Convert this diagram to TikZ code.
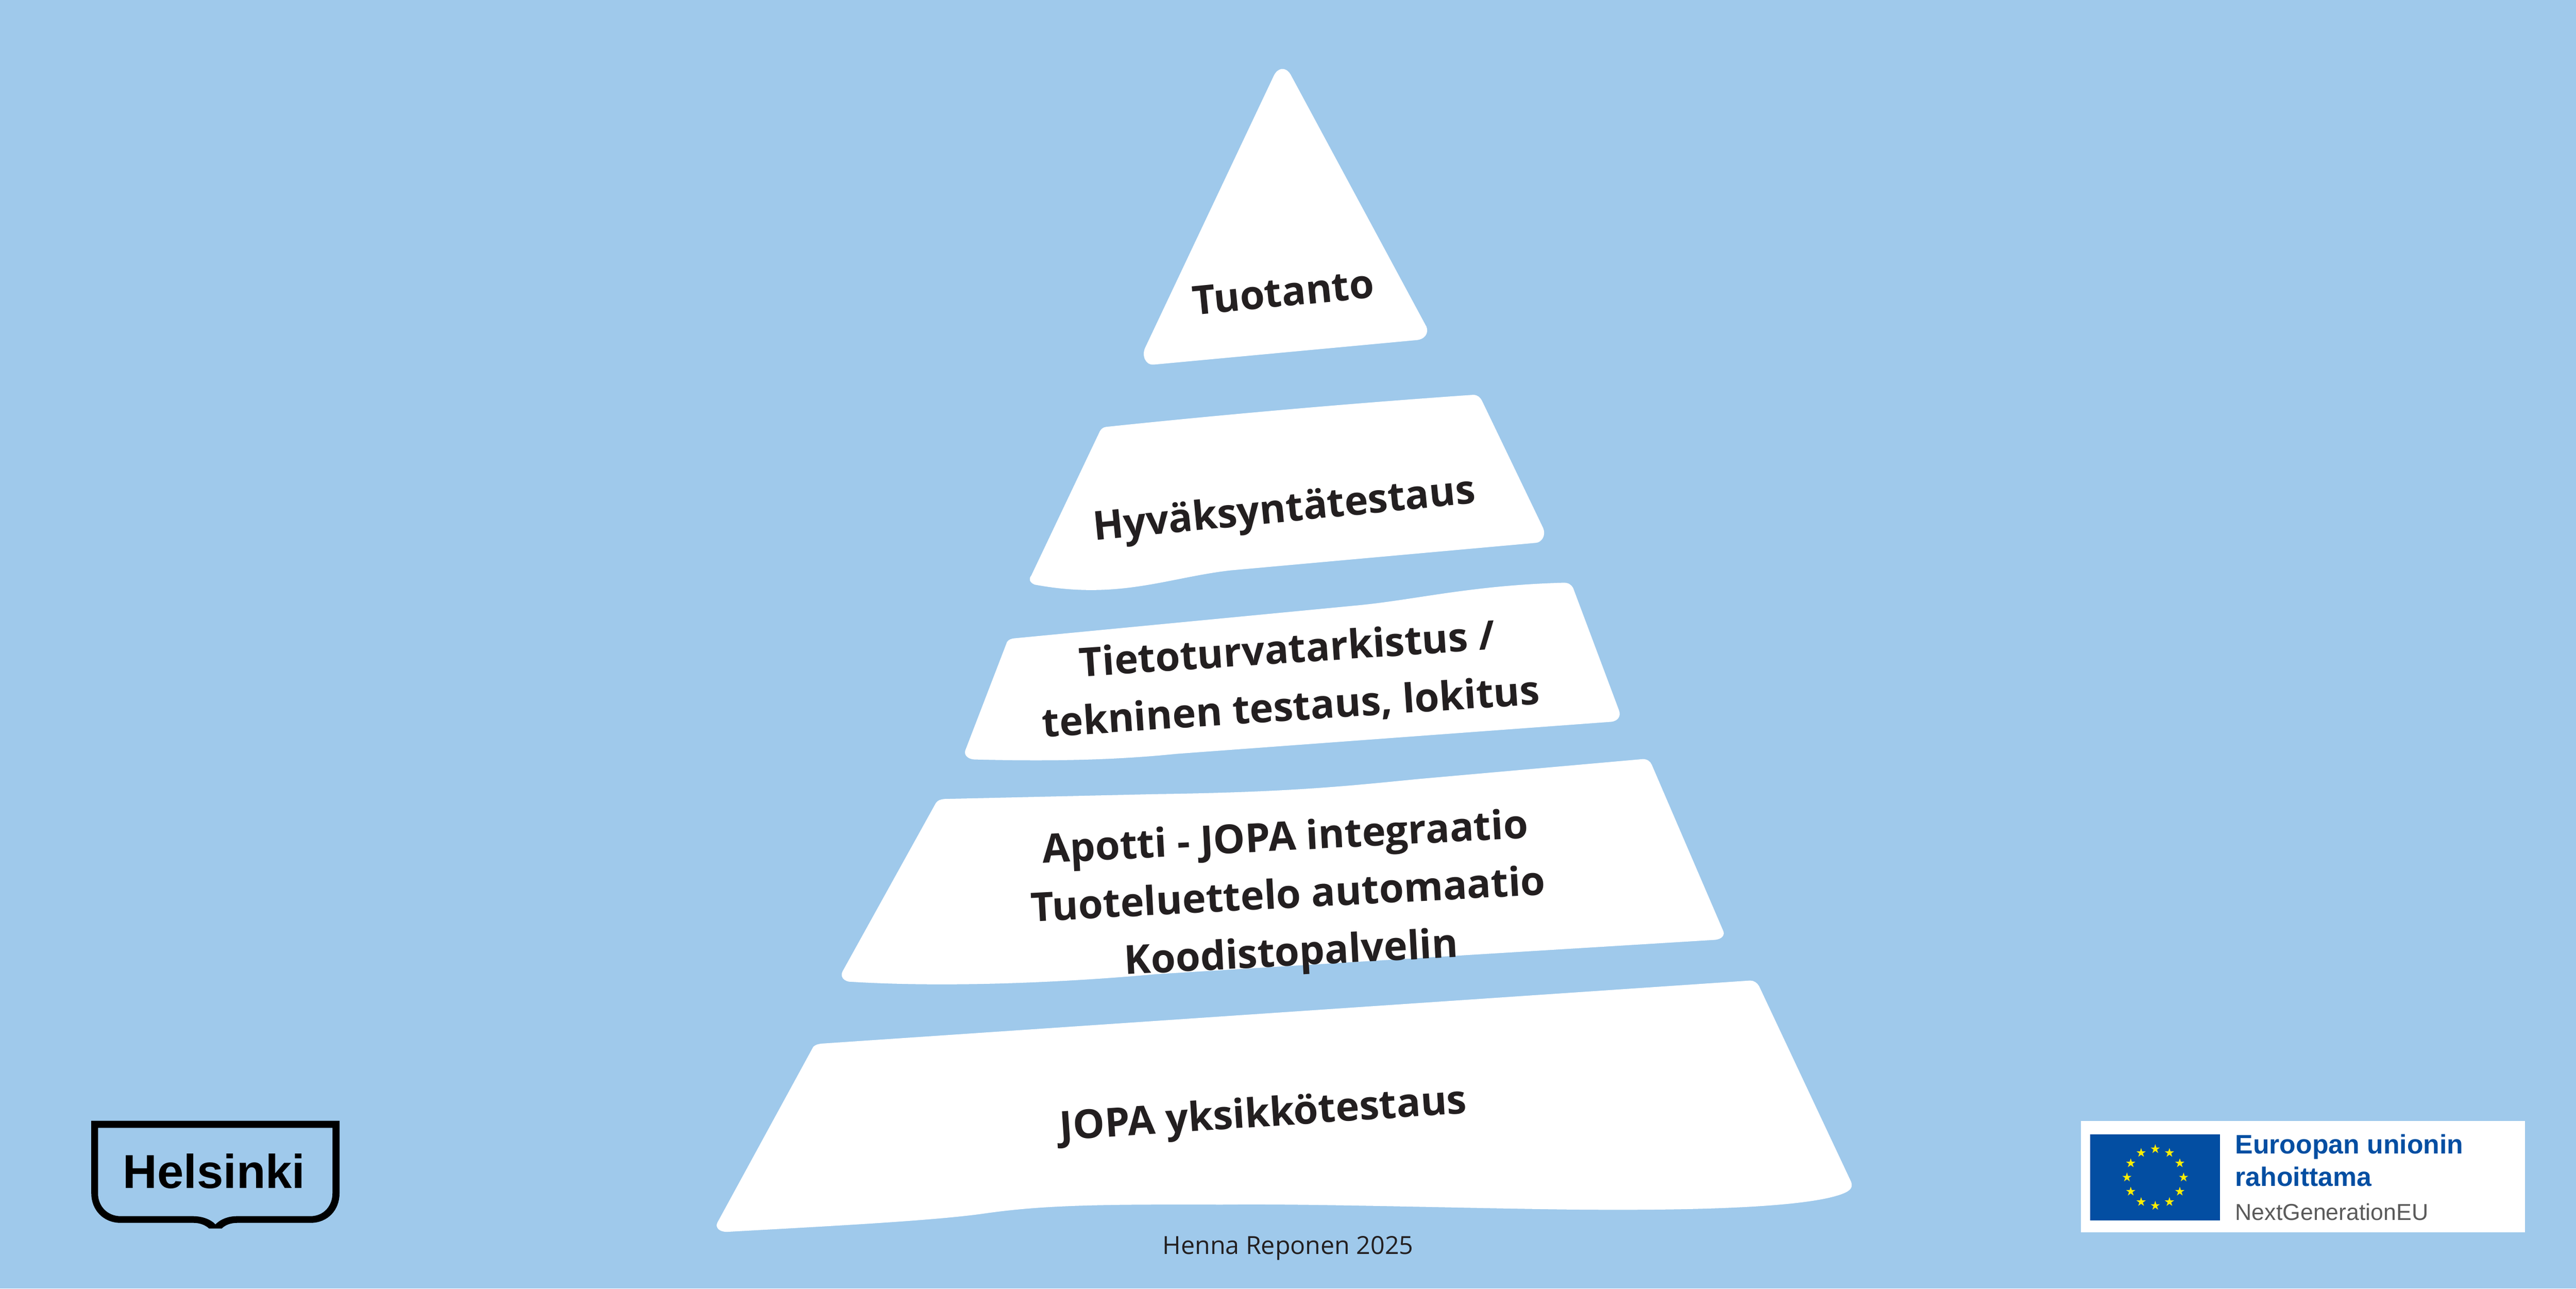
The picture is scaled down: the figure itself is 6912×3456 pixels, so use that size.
\documentclass[tikz,border=0pt]{standalone}
\usepackage{fontspec}
\setmainfont{Open Sans}
\newfontfamily\arialfont{Liberation Sans}
\usetikzlibrary{shapes.geometric,calc}
\definecolor{bgblue}{HTML}{9FC9EB}
\definecolor{inkdark}{HTML}{231F20}
\definecolor{eublue}{HTML}{034EA2}
\definecolor{eugrey}{HTML}{5A5A5A}
\definecolor{eustar}{HTML}{FFED00}
\tikzset{
  x=0.01cm,y=-0.01cm,
  tier/.style={fill=white,draw=none},
  tierlabel/.style={font=\fontsize{30.5}{#1}\selectfont\bfseries,text=inkdark,align=center,inner sep=0pt},
  tierlabel/.default=44,
  eutext/.style={font=\arialfont\bfseries\fontsize{20.35}{24}\selectfont,text=eublue,anchor=base west,inner sep=0pt},
}
\begin{document}
\begin{tikzpicture}
\path[use as bounding box,fill=bgblue] (0,0) rectangle (6912,3456);
% Tuotanto
\path[tier] (3417,205) -- (3073,932) .. controls (3062,955) and (3075,980) .. (3095,978)
  -- (3803,912) .. controls (3830,908) and (3835,885) .. (3824,870)
  -- (3463,200) .. controls (3450,178) and (3428,180) .. (3417,205) -- cycle;
% Hyvaksynta
\path[tier] (2968,1145) .. controls (3300,1110) and (3650,1080) .. (3953,1059) .. controls (3965,1059) and (3972,1066) .. (3977,1076)
  -- (4140,1415) .. controls (4150,1438) and (4135,1455) .. (4121,1456)
  -- (3300,1530) .. controls (3130,1550) and (3000,1610) .. (2776,1568)
  .. controls (2762,1562) and (2760,1552) .. (2767,1544)
  -- (2951,1157) .. controls (2955,1150) and (2960,1146) .. (2968,1145) -- cycle;
% Tietoturva
\path[tier] (2723,1712) -- (3650,1623) .. controls (3800,1608) and (3950,1570) .. (4193,1563)
  .. controls (4208,1562) and (4216,1568) .. (4221,1577)
  -- (4344,1905) .. controls (4350,1920) and (4342,1934) .. (4323,1936)
  -- (3156,2022) .. controls (2980,2040) and (2800,2042) .. (2614,2037)
  .. controls (2598,2036) and (2586,2026) .. (2590,2013)
  -- (2702,1722) .. controls (2706,1716) and (2712,1713) .. (2723,1712) -- cycle;
% Apotti
\path[tier] (2535,2143) -- (3100,2130) .. controls (3450,2125) and (3600,2110) .. (3800,2090) -- (4408,2036)
  .. controls (4420,2036) and (4428,2042) .. (4432,2051)
  -- (4623,2495) .. controls (4630,2508) and (4620,2520) .. (4599,2521)
  -- (3100,2613) .. controls (2870,2634) and (2550,2650) .. (2278,2633)
  .. controls (2262,2630) and (2254,2618) .. (2261,2605)
  -- (2511,2154) .. controls (2516,2147) and (2522,2144) .. (2535,2143) -- cycle;
% JOPA
\path[tier] (2207,2799) -- (4696,2630) .. controls (4706,2630) and (4715,2636) .. (4720,2645)
  -- (4967,3170) .. controls (4972,3185) and (4965,3192) .. (4951,3199)
  .. controls (4850,3245) and (4450,3247) .. (4196,3244)
  .. controls (3900,3240) and (3500,3228) .. (3278,3231)
  .. controls (2950,3230) and (2800,3232) .. (2640,3255)
  .. controls (2500,3275) and (2200,3290) .. (1952,3304)
  .. controls (1930,3305) and (1918,3292) .. (1925,3279)
  -- (2182,2808) .. controls (2188,2802) and (2195,2800) .. (2207,2799) -- cycle;
% Labels
\node[tierlabel,rotate=5.6] (tuotanto) at (3443,784) {Tuotanto};
\node[tierlabel,rotate=5.6] (hyvaksynta) at (3446,1372) {Hyväksyntätestaus};
\node[tierlabel,rotate=3.8] (tieto) at (3459,1822) {Tietoturvatarkistus /\\tekninen testaus, lokitus};
\node[tierlabel,rotate=3] (apotti) at (3457,2408) {Apotti - JOPA integraatio\\Tuoteluettelo automaatio\\Koodistopalvelin};
\node[tierlabel,rotate=3.8] (jopa) at (3390,2994) {JOPA yksikkötestaus};
\node[font=\fontsize{19}{23}\selectfont,text=inkdark,inner sep=0pt] (credit) at (3456,3348) {Henna Reponen 2025};
% Helsinki logo
\path[fill=black,even odd rule]
  (245,3006) -- (911,3006) -- (911,3201) .. controls (911,3245) and (880,3280) .. (833,3280)
  -- (636,3280) .. controls (620,3280) and (605,3285) .. (595,3295) -- (561,3295)
  .. controls (550,3285) and (535,3280) .. (520,3280) -- (324,3280)
  .. controls (277,3280) and (245,3245) .. (245,3201) -- cycle
  (263,3025) -- (892,3025) -- (892,3201) .. controls (892,3235) and (868,3262) .. (833,3262)
  -- (636,3262) .. controls (612,3262) and (592,3270) .. (578,3284)
  .. controls (565,3270) and (542,3262) .. (517,3262) -- (324,3262)
  .. controls (288,3262) and (263,3235) .. (263,3201) -- cycle;
\node[font=\arialfont\bfseries\fontsize{36.3}{40}\selectfont,text=black,anchor=base west,inner sep=0pt] (helsinki) at (329,3187) {Helsinki};
% EU emblem
\path[fill=white] (5583,3006) rectangle (6775,3305);
\path[fill=eublue] (5609,3043) rectangle (5956,3274);
\coordinate (eucentre) at (5783,3158);
\foreach \a in {0,30,...,330}
  \node[star,star points=5,star point ratio=2.618,fill=eustar,draw=none,inner sep=0pt,minimum size=26*0.01cm] (eustar\a) at ($(eucentre)+(\a:76)$) {};
\node[eutext] (eu1) at (5997,3095) {Euroopan unionin};
\node[eutext] (eu2) at (5997,3181) {rahoittama};
\node[font=\arialfont\fontsize{17.56}{21}\selectfont,text=eugrey,anchor=base west,inner sep=0pt] (eu3) at (5997,3273) {NextGenerationEU};
\end{tikzpicture}
\end{document}
